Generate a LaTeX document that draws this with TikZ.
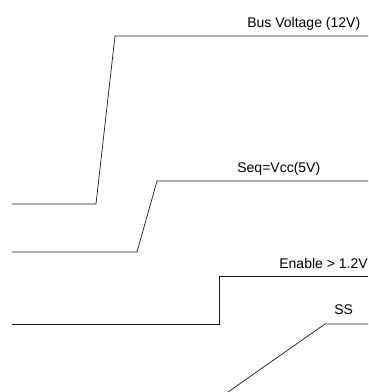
\documentclass[tikz,border=0pt]{standalone}
\usepackage{fontspec}
\setmainfont{Liberation Sans}
\begin{document}
\begin{tikzpicture}[x=1pt,y=-1pt,line width=0.7pt,
  lbl/.style={anchor=base west,inner sep=0pt,font=\fontsize{14}{16}\selectfont}]
\useasboundingbox (0,0) rectangle (368,392);
\def\busline{(12,204) -- (96,204) -- (115,36) -- (368,36)}
\def\seqline{(12,252) -- (137,252) -- (157,181) -- (368,181)}
\def\enline{(12,324) -- (219,324) -- (219,276) -- (368,276)}
\def\ssline{(228,392) -- (325,324) -- (368,324)}

\draw[black!90] \busline;
\draw[black!90] \seqline;
\draw[black!90] \enline;
\draw[black!90] \ssline;

\node[lbl] (bus) at (247,27) {Bus Voltage (12V)};
\node[lbl] (seq) at (237,172) {Seq=Vcc(5V)};
\node[lbl] (en) at (279,268) {Enable > 1.2V};
\node[lbl] (ss) at (334,314) {SS};
\end{tikzpicture}
\end{document}
